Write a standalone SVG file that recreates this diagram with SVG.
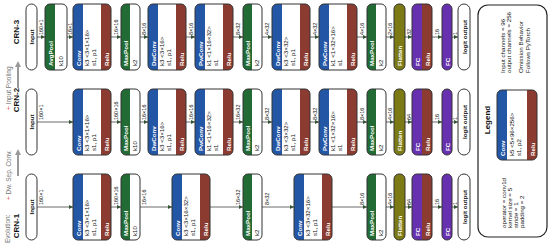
<svg xmlns="http://www.w3.org/2000/svg" width="550" height="245" viewBox="0 0 550 245">
<style>
text{font-family:"Liberation Sans",Arial,sans-serif;font-size:6.2px;fill:#111;dominant-baseline:central}
.w{fill:#fff;font-weight:bold}
.bd{font-weight:bold}
.ol{fill:none;stroke:#333;stroke-width:1}
.wh{fill:#fff}
.bl{fill:#2456a6}
.gr{fill:#236b34}
.re{fill:#8c3b31}
.olv{fill:#7c7a14}
.pu{fill:#6630ae}
.mid{text-anchor:middle}
.lb{font-size:5.5px}
.crn{font-size:8px;font-weight:bold}
.ev{font-size:6.5px;fill:#777}
.cn line{stroke:#444;stroke-width:0.8;marker-end:url(#ah)}
</style>
<defs>
<marker id="ah" markerWidth="4" markerHeight="4" refX="4" refY="2" orient="auto" markerUnits="userSpaceOnUse"><path d="M0,0 L4,2 L0,4 Z" fill="#335533"/></marker>
<marker id="gah" markerWidth="6" markerHeight="6" refX="3" refY="3" orient="auto" markerUnits="userSpaceOnUse"><path d="M0,0 L6,3 L0,6 Z" fill="#999"/></marker>
<path id="sL10" d="M10,0 H5 A5,5 0 0 0 0,5 V61 A5,5 0 0 0 5,66 H10 Z"/>
<path id="sL9" d="M9,0 H5 A5,5 0 0 0 0,5 V61 A5,5 0 0 0 5,66 H9 Z"/>
<path id="sR38" d="M28,0 H33 A5,5 0 0 1 38,5 V61 A5,5 0 0 1 33,66 H28 Z"/>
<path id="sR20" d="M10,0 H15 A5,5 0 0 1 20,5 V61 A5,5 0 0 1 15,66 H10 Z"/>
<rect id="b38" width="38" height="66" rx="5"/>
<rect id="b19" width="19" height="66" rx="5"/>
<rect id="b22" width="22" height="66" rx="5"/>
<rect id="b20" width="20" height="66" rx="5"/>
<rect id="b11" width="11" height="66" rx="5"/>
<rect id="b10" width="10" height="66" rx="5"/>
<rect id="p11" width="11" height="66" rx="5.5"/>
<rect id="p12" width="12" height="66" rx="6"/>
</defs>

<!-- left labels -->
<g id="evolution">
<text class="ev" transform="translate(7,243) rotate(-90)">Evolution:</text>
<text class="ev" transform="translate(8,200) rotate(-90)"><tspan fill="#d44">+</tspan> Dw. Sep. Conv.</text>
<text class="ev" transform="translate(8,110) rotate(-90)"><tspan fill="#d44">+</tspan> Input Pooling</text>
<line x1="18" y1="176" x2="18" y2="152" stroke="#999" stroke-width="2" marker-end="url(#gah)"/>
<line x1="18" y1="88" x2="18" y2="64" stroke="#999" stroke-width="2" marker-end="url(#gah)"/>
</g>
<text class="crn mid" transform="translate(16,32) rotate(-90)">CRN-3</text>
<text class="crn mid" transform="translate(16,100) rotate(-90)">CRN-2</text>
<text class="crn mid" transform="translate(16,226) rotate(-90)">CRN-1</text>

<!-- connectors -->
<g id="connectors" class="cn">
<line x1="37" y1="37" x2="45" y2="37"/><line x1="67" y1="37" x2="73" y2="37"/><line x1="111" y1="37" x2="121" y2="37"/><line x1="140" y1="37" x2="148" y2="37"/><line x1="186" y1="37" x2="195" y2="37"/><line x1="233" y1="37" x2="243" y2="37"/><line x1="262" y1="37" x2="272" y2="37"/><line x1="310" y1="37" x2="319" y2="37"/><line x1="357" y1="37" x2="367" y2="37"/><line x1="386" y1="37" x2="394" y2="37"/><line x1="405" y1="37" x2="412" y2="37"/><line x1="432" y1="37" x2="442" y2="37"/><line x1="452" y1="37" x2="458" y2="37"/>
<line x1="37" y1="122" x2="73" y2="122"/><line x1="111" y1="122" x2="121" y2="122"/><line x1="140" y1="122" x2="148" y2="122"/><line x1="186" y1="122" x2="195" y2="122"/><line x1="233" y1="122" x2="243" y2="122"/><line x1="262" y1="122" x2="272" y2="122"/><line x1="310" y1="122" x2="319" y2="122"/><line x1="357" y1="122" x2="367" y2="122"/><line x1="386" y1="122" x2="394" y2="122"/><line x1="405" y1="122" x2="412" y2="122"/><line x1="432" y1="122" x2="442" y2="122"/><line x1="452" y1="122" x2="458" y2="122"/>
<line x1="37" y1="207" x2="73" y2="207"/><line x1="111" y1="207" x2="121" y2="207"/><line x1="140" y1="207" x2="172" y2="207"/><line x1="210" y1="207" x2="243" y2="207"/><line x1="262" y1="207" x2="294" y2="207"/><line x1="332" y1="207" x2="367" y2="207"/><line x1="386" y1="207" x2="394" y2="207"/><line x1="405" y1="207" x2="412" y2="207"/><line x1="432" y1="207" x2="442" y2="207"/><line x1="452" y1="207" x2="458" y2="207"/>
</g>
<g id="edge-labels">
<text class="lb" transform="translate(41,35) rotate(-90)">160×1</text><text class="lb" transform="translate(70,35) rotate(-90)">16×1</text><text class="lb" transform="translate(116,35) rotate(-90)">16×16</text><text class="lb" transform="translate(144,35) rotate(-90)">8×16</text><text class="lb" transform="translate(190.5,35) rotate(-90)">8×16</text><text class="lb" transform="translate(238,35) rotate(-90)">8×32</text><text class="lb" transform="translate(267,35) rotate(-90)">4×32</text><text class="lb" transform="translate(314.5,35) rotate(-90)">4×32</text><text class="lb" transform="translate(362,35) rotate(-90)">4×16</text><text class="lb" transform="translate(390,35) rotate(-90)">2×16</text><text class="lb" transform="translate(408.5,35) rotate(-90)">32</text><text class="lb" transform="translate(437,35) rotate(-90)">16</text><text class="lb" transform="translate(455,35) rotate(-90)">1</text>
<text class="lb" transform="translate(41,120) rotate(-90)">160×1</text><text class="lb" transform="translate(116,120) rotate(-90)">160×16</text><text class="lb" transform="translate(144,120) rotate(-90)">16×16</text><text class="lb" transform="translate(190.5,120) rotate(-90)">16×16</text><text class="lb" transform="translate(238,120) rotate(-90)">16×32</text><text class="lb" transform="translate(267,120) rotate(-90)">8×32</text><text class="lb" transform="translate(314.5,120) rotate(-90)">8×32</text><text class="lb" transform="translate(362,120) rotate(-90)">8×16</text><text class="lb" transform="translate(390,120) rotate(-90)">4×16</text><text class="lb" transform="translate(408.5,120) rotate(-90)">64</text><text class="lb" transform="translate(437,120) rotate(-90)">16</text><text class="lb" transform="translate(455,120) rotate(-90)">1</text>
<text class="lb" transform="translate(41,205) rotate(-90)">160×1</text><text class="lb" transform="translate(116,205) rotate(-90)">160×16</text><text class="lb" transform="translate(144,205) rotate(-90)">16×16</text><text class="lb" transform="translate(238,205) rotate(-90)">16×32</text><text class="lb" transform="translate(267,205) rotate(-90)">8×32</text><text class="lb" transform="translate(362,205) rotate(-90)">8×16</text><text class="lb" transform="translate(390,205) rotate(-90)">4×16</text><text class="lb" transform="translate(408.5,205) rotate(-90)">64</text><text class="lb" transform="translate(437,205) rotate(-90)">16</text><text class="lb" transform="translate(455,205) rotate(-90)">1</text>
</g>

<!-- CRN-3 -->
<g id="crn3-input" transform="translate(26,4)"><use href="#p11" class="wh"/><use href="#p11" class="ol"/><text class="bd mid" transform="translate(5.5,33) rotate(-90)">Input</text></g>
<g id="crn3-avgpool" transform="translate(45,4)"><use href="#b22" class="wh"/><use href="#sL10" class="gr"/><use href="#b22" class="ol"/><text class="w" transform="translate(5,62) rotate(-90)">AvgPool</text><text transform="translate(15,62) rotate(-90)">k10</text></g>
<g id="crn3-conv" transform="translate(73,4)"><use href="#b38" class="wh"/><use href="#sL10" class="bl"/><use href="#sR38" class="re"/><use href="#b38" class="ol"/><text class="w" transform="translate(5,62) rotate(-90)">Conv</text><text transform="translate(13.5,62) rotate(-90)">k3 &lt;3×1×16&gt;</text><text transform="translate(20.5,62) rotate(-90)">s1, p1</text><text class="w" transform="translate(33,62) rotate(-90)">Relu</text></g>
<g id="crn3-maxpool1" transform="translate(121,4)"><use href="#b19" class="wh"/><use href="#sL9" class="gr"/><use href="#b19" class="ol"/><text class="w" transform="translate(4.5,62) rotate(-90)">MaxPool</text><text transform="translate(13,62) rotate(-90)">k2</text></g>
<g id="crn3-dwconv1" transform="translate(148,4)"><use href="#b38" class="wh"/><use href="#sL10" class="bl"/><use href="#sR38" class="re"/><use href="#b38" class="ol"/><text class="w" transform="translate(5,62) rotate(-90)">DwConv</text><text transform="translate(13.5,62) rotate(-90)">k3 &lt;3×16&gt;</text><text transform="translate(20.5,62) rotate(-90)">s1, p1</text><text class="w" transform="translate(33,62) rotate(-90)">Relu</text></g>
<g id="crn3-pwconv1" transform="translate(195,4)"><use href="#b38" class="wh"/><use href="#sL10" class="bl"/><use href="#sR38" class="re"/><use href="#b38" class="ol"/><text class="w" transform="translate(5,62) rotate(-90)">PwConv</text><text transform="translate(13.5,62) rotate(-90)">k1 &lt;1×16×32&gt;</text><text transform="translate(20.5,62) rotate(-90)">s1</text><text class="w" transform="translate(33,62) rotate(-90)">Relu</text></g>
<g id="crn3-maxpool2" transform="translate(243,4)"><use href="#b19" class="wh"/><use href="#sL9" class="gr"/><use href="#b19" class="ol"/><text class="w" transform="translate(4.5,62) rotate(-90)">MaxPool</text><text transform="translate(13,62) rotate(-90)">k2</text></g>
<g id="crn3-dwconv2" transform="translate(272,4)"><use href="#b38" class="wh"/><use href="#sL10" class="bl"/><use href="#sR38" class="re"/><use href="#b38" class="ol"/><text class="w" transform="translate(5,62) rotate(-90)">DwConv</text><text transform="translate(13.5,62) rotate(-90)">k3 &lt;3×32&gt;</text><text transform="translate(20.5,62) rotate(-90)">s1, p1</text><text class="w" transform="translate(33,62) rotate(-90)">Relu</text></g>
<g id="crn3-pwconv2" transform="translate(319,4)"><use href="#b38" class="wh"/><use href="#sL10" class="bl"/><use href="#sR38" class="re"/><use href="#b38" class="ol"/><text class="w" transform="translate(5,62) rotate(-90)">PwConv</text><text transform="translate(13.5,62) rotate(-90)">k1 &lt;1×32×16&gt;</text><text transform="translate(20.5,62) rotate(-90)">s1</text><text class="w" transform="translate(33,62) rotate(-90)">Relu</text></g>
<g id="crn3-maxpool3" transform="translate(367,4)"><use href="#b19" class="wh"/><use href="#sL9" class="gr"/><use href="#b19" class="ol"/><text class="w" transform="translate(4.5,62) rotate(-90)">MaxPool</text><text transform="translate(13,62) rotate(-90)">k2</text></g>
<g id="crn3-flatten" transform="translate(394,4)"><use href="#b11" class="olv"/><use href="#b11" class="ol"/><text class="w" transform="translate(5.5,62) rotate(-90)">Flatten</text></g>
<g id="crn3-fc1" transform="translate(412,4)"><use href="#b20" class="pu"/><use href="#sR20" class="re"/><use href="#b20" class="ol"/><text class="w" transform="translate(5,62) rotate(-90)">FC</text><text class="w" transform="translate(15,62) rotate(-90)">Relu</text></g>
<g id="crn3-fc2" transform="translate(442,4)"><use href="#b10" class="pu"/><use href="#b10" class="ol"/><text class="w" transform="translate(5,62) rotate(-90)">FC</text></g>
<g id="crn3-output" transform="translate(458,4)"><use href="#p12" class="wh"/><use href="#p12" class="ol"/><text class="bd mid" transform="translate(6,33) rotate(-90)">logit output</text></g>

<!-- CRN-2 -->
<g id="crn2-input" transform="translate(26,89)"><use href="#p11" class="wh"/><use href="#p11" class="ol"/><text class="bd mid" transform="translate(5.5,33) rotate(-90)">Input</text></g>
<g id="crn2-conv" transform="translate(73,89)"><use href="#b38" class="wh"/><use href="#sL10" class="bl"/><use href="#sR38" class="re"/><use href="#b38" class="ol"/><text class="w" transform="translate(5,62) rotate(-90)">Conv</text><text transform="translate(13.5,62) rotate(-90)">k3 &lt;3×1×16&gt;</text><text transform="translate(20.5,62) rotate(-90)">s1, p1</text><text class="w" transform="translate(33,62) rotate(-90)">Relu</text></g>
<g id="crn2-maxpool1" transform="translate(121,89)"><use href="#b19" class="wh"/><use href="#sL9" class="gr"/><use href="#b19" class="ol"/><text class="w" transform="translate(4.5,62) rotate(-90)">MaxPool</text><text transform="translate(13,62) rotate(-90)">k10</text></g>
<g id="crn2-dwconv1" transform="translate(148,89)"><use href="#b38" class="wh"/><use href="#sL10" class="bl"/><use href="#sR38" class="re"/><use href="#b38" class="ol"/><text class="w" transform="translate(5,62) rotate(-90)">DwConv</text><text transform="translate(13.5,62) rotate(-90)">k3 &lt;3×16&gt;</text><text transform="translate(20.5,62) rotate(-90)">s1, p1</text><text class="w" transform="translate(33,62) rotate(-90)">Relu</text></g>
<g id="crn2-pwconv1" transform="translate(195,89)"><use href="#b38" class="wh"/><use href="#sL10" class="bl"/><use href="#sR38" class="re"/><use href="#b38" class="ol"/><text class="w" transform="translate(5,62) rotate(-90)">PwConv</text><text transform="translate(13.5,62) rotate(-90)">k1 &lt;1×16×32&gt;</text><text transform="translate(20.5,62) rotate(-90)">s1</text><text class="w" transform="translate(33,62) rotate(-90)">Relu</text></g>
<g id="crn2-maxpool2" transform="translate(243,89)"><use href="#b19" class="wh"/><use href="#sL9" class="gr"/><use href="#b19" class="ol"/><text class="w" transform="translate(4.5,62) rotate(-90)">MaxPool</text><text transform="translate(13,62) rotate(-90)">k2</text></g>
<g id="crn2-dwconv2" transform="translate(272,89)"><use href="#b38" class="wh"/><use href="#sL10" class="bl"/><use href="#sR38" class="re"/><use href="#b38" class="ol"/><text class="w" transform="translate(5,62) rotate(-90)">DwConv</text><text transform="translate(13.5,62) rotate(-90)">k3 &lt;3×32&gt;</text><text transform="translate(20.5,62) rotate(-90)">s1, p1</text><text class="w" transform="translate(33,62) rotate(-90)">Relu</text></g>
<g id="crn2-pwconv2" transform="translate(319,89)"><use href="#b38" class="wh"/><use href="#sL10" class="bl"/><use href="#sR38" class="re"/><use href="#b38" class="ol"/><text class="w" transform="translate(5,62) rotate(-90)">PwConv</text><text transform="translate(13.5,62) rotate(-90)">k1 &lt;1×32×16&gt;</text><text transform="translate(20.5,62) rotate(-90)">s1</text><text class="w" transform="translate(33,62) rotate(-90)">Relu</text></g>
<g id="crn2-maxpool3" transform="translate(367,89)"><use href="#b19" class="wh"/><use href="#sL9" class="gr"/><use href="#b19" class="ol"/><text class="w" transform="translate(4.5,62) rotate(-90)">MaxPool</text><text transform="translate(13,62) rotate(-90)">k2</text></g>
<g id="crn2-flatten" transform="translate(394,89)"><use href="#b11" class="olv"/><use href="#b11" class="ol"/><text class="w" transform="translate(5.5,62) rotate(-90)">Flatten</text></g>
<g id="crn2-fc1" transform="translate(412,89)"><use href="#b20" class="pu"/><use href="#sR20" class="re"/><use href="#b20" class="ol"/><text class="w" transform="translate(5,62) rotate(-90)">FC</text><text class="w" transform="translate(15,62) rotate(-90)">Relu</text></g>
<g id="crn2-fc2" transform="translate(442,89)"><use href="#b10" class="pu"/><use href="#b10" class="ol"/><text class="w" transform="translate(5,62) rotate(-90)">FC</text></g>
<g id="crn2-output" transform="translate(458,89)"><use href="#p12" class="wh"/><use href="#p12" class="ol"/><text class="bd mid" transform="translate(6,33) rotate(-90)">logit output</text></g>

<!-- CRN-1 -->
<g id="crn1-input" transform="translate(26,174)"><use href="#p11" class="wh"/><use href="#p11" class="ol"/><text class="bd mid" transform="translate(5.5,33) rotate(-90)">Input</text></g>
<g id="crn1-conv1" transform="translate(73,174)"><use href="#b38" class="wh"/><use href="#sL10" class="bl"/><use href="#sR38" class="re"/><use href="#b38" class="ol"/><text class="w" transform="translate(5,62) rotate(-90)">Conv</text><text transform="translate(13.5,62) rotate(-90)">k3 &lt;3×1×16&gt;</text><text transform="translate(20.5,62) rotate(-90)">s1, p1</text><text class="w" transform="translate(33,62) rotate(-90)">Relu</text></g>
<g id="crn1-maxpool1" transform="translate(121,174)"><use href="#b19" class="wh"/><use href="#sL9" class="gr"/><use href="#b19" class="ol"/><text class="w" transform="translate(4.5,62) rotate(-90)">MaxPool</text><text transform="translate(13,62) rotate(-90)">k10</text></g>
<g id="crn1-conv2" transform="translate(172,174)"><use href="#b38" class="wh"/><use href="#sL10" class="bl"/><use href="#sR38" class="re"/><use href="#b38" class="ol"/><text class="w" transform="translate(5,62) rotate(-90)">Conv</text><text transform="translate(13.5,62) rotate(-90)">k3 &lt;3×16×32&gt;</text><text transform="translate(20.5,62) rotate(-90)">s1, p1</text><text class="w" transform="translate(33,62) rotate(-90)">Relu</text></g>
<g id="crn1-maxpool2" transform="translate(243,174)"><use href="#b19" class="wh"/><use href="#sL9" class="gr"/><use href="#b19" class="ol"/><text class="w" transform="translate(4.5,62) rotate(-90)">MaxPool</text><text transform="translate(13,62) rotate(-90)">k2</text></g>
<g id="crn1-conv3" transform="translate(294,174)"><use href="#b38" class="wh"/><use href="#sL10" class="bl"/><use href="#sR38" class="re"/><use href="#b38" class="ol"/><text class="w" transform="translate(5,62) rotate(-90)">Conv</text><text transform="translate(13.5,62) rotate(-90)">k3 &lt;3×32×16&gt;</text><text transform="translate(20.5,62) rotate(-90)">s1, p1</text><text class="w" transform="translate(33,62) rotate(-90)">Relu</text></g>
<g id="crn1-maxpool3" transform="translate(367,174)"><use href="#b19" class="wh"/><use href="#sL9" class="gr"/><use href="#b19" class="ol"/><text class="w" transform="translate(4.5,62) rotate(-90)">MaxPool</text><text transform="translate(13,62) rotate(-90)">k2</text></g>
<g id="crn1-flatten" transform="translate(394,174)"><use href="#b11" class="olv"/><use href="#b11" class="ol"/><text class="w" transform="translate(5.5,62) rotate(-90)">Flatten</text></g>
<g id="crn1-fc1" transform="translate(412,174)"><use href="#b20" class="pu"/><use href="#sR20" class="re"/><use href="#b20" class="ol"/><text class="w" transform="translate(5,62) rotate(-90)">FC</text><text class="w" transform="translate(15,62) rotate(-90)">Relu</text></g>
<g id="crn1-fc2" transform="translate(442,174)"><use href="#b10" class="pu"/><use href="#b10" class="ol"/><text class="w" transform="translate(5,62) rotate(-90)">FC</text></g>
<g id="crn1-output" transform="translate(458,174)"><use href="#p12" class="wh"/><use href="#p12" class="ol"/><text class="bd mid" transform="translate(6,33) rotate(-90)">logit output</text></g>

<!-- Legend -->
<g id="legend">
<rect x="478" y="5" width="69" height="232" rx="10" fill="#fff" stroke="#222" stroke-width="1.2"/>
<text transform="translate(502,73) rotate(-90)">Input channels = 96</text>
<text transform="translate(508,73) rotate(-90)">output channels = 256</text>
<text transform="translate(520,73) rotate(-90)">Omission Behavior</text>
<text transform="translate(527,73) rotate(-90)">Follows PyTorch</text>
<text class="crn mid" transform="translate(487,120) rotate(-90)">Legend</text>
<g transform="translate(497,90)">
<rect width="40" height="70" rx="5" fill="#fff"/>
<path class="bl" d="M10,0 H5 A5,5 0 0 0 0,5 V65 A5,5 0 0 0 5,70 H10 Z"/>
<path class="re" d="M30,0 H35 A5,5 0 0 1 40,5 V65 A5,5 0 0 1 35,70 H30 Z"/>
<rect class="ol" width="40" height="70" rx="5"/>
<text class="w" transform="translate(5,66) rotate(-90)">Conv</text>
<text transform="translate(14,66) rotate(-90)">k5 &lt;5×96×256&gt;</text>
<text transform="translate(21,66) rotate(-90)">s1, p2</text>
<text class="w" transform="translate(35,66) rotate(-90)">Relu</text>
</g>
<text transform="translate(503,228) rotate(-90)">operator = conv1d</text>
<text transform="translate(509,228) rotate(-90)">kernel size = 5</text>
<text transform="translate(515,228) rotate(-90)">stride = 1</text>
<text transform="translate(521,228) rotate(-90)">padding = 2</text>
</g>
</svg>
